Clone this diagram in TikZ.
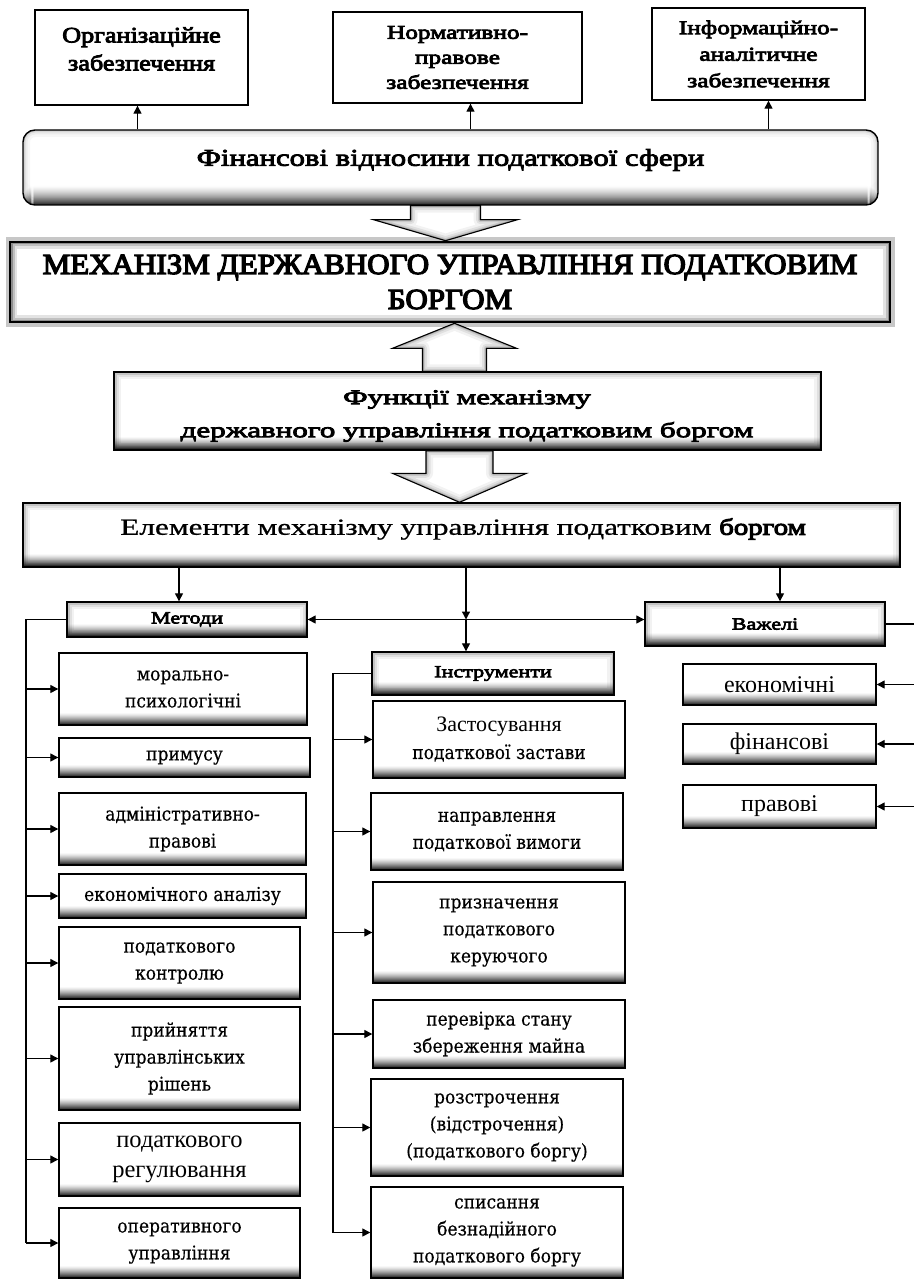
\documentclass[tikz,border=0pt]{standalone}
\usepackage{fontspec}
\setmainfont{Liberation Serif}
% regular serif, plus emboldened / widened variants of it
\newfontfamily\tnr{Liberation Serif}
\newfontfamily\tnrB[FakeStretch=1.07,FakeBold=4.5]{Liberation Serif}
\newfontfamily\serA[FakeStretch=1.19,FakeBold=4]{Liberation Serif}
\newfontfamily\serB[FakeStretch=1.3,FakeBold=4]{Liberation Serif}
\newfontfamily\serC[FakeStretch=1.28,FakeBold=3.5]{Liberation Serif}
\newfontfamily\serD[FakeStretch=1.48,FakeBold=4]{Liberation Serif}
\newfontfamily\serDr[FakeStretch=1.36,FakeBold=0.8]{Liberation Serif}
\newfontfamily\serDb[FakeStretch=1.25,FakeBold=4.5]{Liberation Serif}
\newfontfamily\dvs[FakeStretch=0.9,FakeBold=0.35]{DejaVu Serif}
\usetikzlibrary{arrows.meta,calc}

% darkening band along the lower edge of a box
\newcommand\bottomfade[2]{%
  \foreach \k in {0,...,#1}{%
    \pgfmathsetmacro\c{#2*(1-\k/(#1+1))^1.4}%
    \fill[black!\c] ([yshift=\k*1pt]path picture bounding box.south west) rectangle
      ([yshift=\k*1pt+1.1pt]path picture bounding box.south east);}}
% soft shadow along all inner edges
\newcommand\innerglow[1]{%
  \draw[line width=14pt, black, opacity=0.05*#1] (path picture bounding box.south west) rectangle (path picture bounding box.north east);
  \draw[line width=9pt, black, opacity=0.07*#1] (path picture bounding box.south west) rectangle (path picture bounding box.north east);
  \draw[line width=5pt, black, opacity=0.12*#1] (path picture bounding box.south west) rectangle (path picture bounding box.north east);
  \draw[line width=2.5pt, black, opacity=0.2*#1] (path picture bounding box.south west) rectangle (path picture bounding box.north east);}

\tikzset{
  conn/.style={line width=1.3pt, draw=black},
  arr/.style={conn, -{Triangle[length=8pt,width=8pt]}},
  darr/.style={conn, {Triangle[length=8pt,width=8pt]}-{Triangle[length=8pt,width=8pt]}},
  plainbox/.style={draw=black, line width=1.4pt, fill=white, inner sep=0pt, align=center},
  shadebox/.style={plainbox, path picture={\bottomfade{11}{85}}},
  hdrbox/.style={plainbox, path picture={\bottomfade{12}{85}\innerglow{1}}},
  mechbox/.style={plainbox, line width=2.6pt, preaction={draw=black!22, line width=9pt},
    path picture={\innerglow{2.2}}},
  finbox/.style={plainbox, rounded corners=12pt, path picture={\bottomfade{18}{75}\innerglow{0.6}}},
  lbox/.style={shadebox, font=\dvs\fontsize{19}{27}\selectfont},
  tbox/.style={shadebox, font=\tnr\fontsize{24}{30}\selectfont},
  hdrfont/.style={font=\serB\fontsize{17}{20}\selectfont},
}

% hollow block arrow: start, tip, shaft half width, head half width, head length
\newcommand\blockarrow[5]{%
  \coordinate (hb) at ($(#2)!#5!(#1)$);
  \coordinate (p1) at ($(#1)+(-#3,0)$);
  \coordinate (p2) at ($(hb)+(-#3,0)$);
  \coordinate (p3) at ($(hb)+(-#4,0)$);
  \coordinate (p5) at ($(hb)+(#4,0)$);
  \coordinate (p6) at ($(hb)+(#3,0)$);
  \coordinate (p7) at ($(#1)+(#3,0)$);
  \begin{scope}
    \clip (p1) -- (p2) -- (p3) -- (#2) -- (p5) -- (p6) -- (p7) -- cycle;
    \fill[white] (p1) -- (p2) -- (p3) -- (#2) -- (p5) -- (p6) -- (p7) -- cycle;
    \foreach \w/\o in {14/0.05,9/0.07,5/0.1,2.5/0.15}
      \draw[black, line width=\w pt, opacity=\o, line join=round]
        (p1) -- (p2) -- (p3) -- (#2) -- (p5) -- (p6) -- (p7) -- cycle;
  \end{scope}
  \draw[black, line width=1.1pt] (p1) -- (p2) -- (p3) -- (#2) -- (p5) -- (p6) -- (p7) -- cycle;}

\begin{document}
\begin{tikzpicture}[x=1pt,y=-1pt]
\useasboundingbox (0,0) rectangle (913,1281);
\fill[white] (0,0) rectangle (913,1281);

% --- support blocks at the top
\node[plainbox, minimum width=213pt, minimum height=95pt] (org) at (141.5,57.5) {};
\node[font=\serA\fontsize{22}{28}\selectfont, align=center] (orgT) at (141.5,49) {Організаційне\\забезпечення};
\node[plainbox, minimum width=249pt, minimum height=91pt, font=\serB\fontsize{19.5}{25}\selectfont] (norm) at (457.5,57.5) {Нормативно-\\правове\\забезпечення};
\node[plainbox, minimum width=213pt, minimum height=92pt, font=\serB\fontsize{19.5}{26.5}\selectfont] (info) at (758.5,54) {Інформаційно-\\аналітичне\\забезпечення};

% --- financial relations
\node[finbox, minimum width=855pt, minimum height=75pt] (fin) at (450.5,167.5) {};
\node[font=\serC\fontsize{24}{28}\selectfont] (finT) at (450.5,160) {Фінансові відносини податкової сфери};

\draw[arr] ([xshift=-4pt]org.south |- fin.north) -- ([xshift=-4pt]org.south);
\draw[arr] ([xshift=13pt]norm.south |- fin.north) -- ([xshift=13pt]norm.south);
\draw[arr] ([xshift=10pt]info.south |- fin.north) -- ([xshift=10pt]info.south);

% --- mechanism
\node[mechbox, minimum width=880pt, minimum height=80pt, font=\tnrB\fontsize{29}{35}\selectfont] (mech) at (450,282) {МЕХАНІЗМ ДЕРЖАВНОГО УПРАВЛІННЯ ПОДАТКОВИМ\\БОРГОМ};

% --- functions
\node[hdrbox, minimum width=707pt, minimum height=78pt] (func) at (467.5,411) {};
\node[font=\serD\fontsize{21}{33}\selectfont, align=center] (funcT) at (467,416) {Функції механізму\\державного управління податковим боргом};

% --- elements
\node[hdrbox, minimum width=877pt, minimum height=64pt] (elem) at (461.5,535) {};
\node[font=\serDr\fontsize{23}{28}\selectfont] (elemT) at (463,529) {Елементи механізму управління податковим {\serDb боргом}};

% --- block arrows between the main levels
\coordinate (a1s) at ([xshift=-5pt]fin.south);
\coordinate (a1t) at (a1s |- mech.north);
\blockarrow{a1s}{a1t}{35}{72}{21pt}
\coordinate (a2s) at ([xshift=-13pt]func.north);
\coordinate (a2t) at (a2s |- mech.south);
\blockarrow{a2s}{a2t}{32}{62}{25pt}
\coordinate (a3s) at ([xshift=-8pt]func.south);
\coordinate (a3t) at (a3s |- elem.north);
\blockarrow{a3s}{a3t}{33.5}{67}{29pt}

% --- three groups
\node[hdrbox, hdrfont, minimum width=240pt, minimum height=35pt] (met) at (187,619.5) {Методи};
\node[hdrbox, hdrfont, minimum width=240pt, minimum height=44pt] (vaz) at (765,624) {Важелі};
\node[hdrbox, hdrfont, minimum width=242pt, minimum height=43pt] (instr) at (493,673.5) {Інструменти};

\draw[arr] ([xshift=-8pt]met.north |- elem.south) -- ([xshift=-8pt]met.north);
\draw[arr] ([xshift=15pt]vaz.north |- elem.south) -- ([xshift=15pt]vaz.north);
\coordinate (mid) at ([xshift=-27pt]instr.north |- met.east);
\draw[arr] (mid |- elem.south) -- (mid);
\draw[arr] (mid) -- (mid |- instr.north);
\draw[darr] (met.east) -- (met.east -| vaz.west);

% --- methods
\node[lbox, minimum width=248pt, minimum height=72pt] (m1) at (183,689) {морально-\\психологічні};
\node[lbox, minimum width=251pt, minimum height=39pt] (m2) at (184.5,757.5) {примусу};
\node[lbox, minimum width=247pt, minimum height=72pt] (m3) at (182.5,829) {адміністративно-\\правові};
\node[lbox, minimum width=247pt, minimum height=44pt] (m4) at (182.5,896) {економічного аналізу};
\node[lbox, minimum width=241pt, minimum height=72pt] (m5) at (179.5,963) {податкового\\контролю};
\node[lbox, minimum width=241pt, minimum height=103pt] (m6) at (179.5,1058.5) {прийняття\\управлінських\\рішень};
\node[tbox, font=\tnr\fontsize{24.5}{30}\selectfont, minimum width=241pt, minimum height=73pt] (m7) at (179.5,1159.5) {податкового\\регулювання};
\node[lbox, minimum width=241pt, minimum height=70pt] (m8) at (179.5,1243) {оперативного\\управління};

\coordinate (lbus) at (26,0);
\draw[conn] (met.west) -| (lbus |- m8.west);
\foreach \b in {m1,m2,m3,m4,m5,m6,m7,m8}
  \draw[arr] (lbus |- \b.west) -- (\b.west);

% --- instruments
\node[lbox, minimum width=252pt, minimum height=77pt] (i1) at (499,739.5) {{\tnr\fontsize{22}{27}\selectfont Застосування}\\податкової застави};
\node[lbox, minimum width=252pt, minimum height=77pt] (i2) at (497,831.5) {направлення\\податкової вимоги};
\node[lbox, minimum width=252pt, minimum height=101pt] (i3) at (499,932.5) {призначення\\податкового\\керуючого};
\node[lbox, minimum width=252pt, minimum height=68pt] (i4) at (499,1034) {перевірка стану\\збереження майна};
\node[lbox, minimum width=252pt, minimum height=97pt] (i5) at (497,1127.5) {розстрочення\\(відстрочення)\\(податкового боргу)};
\node[lbox, minimum width=252pt, minimum height=91pt] (i6) at (497,1232.5) {списання\\безнадійного\\податкового боргу};

\coordinate (mbus) at (333,0);
\draw[conn] (instr.west) -| (mbus |- i6.west);
\foreach \b in {i1,i2,i3,i4,i5,i6}
  \draw[arr] (mbus |- \b.west) -- (\b.west);

% --- levers
\node[tbox, minimum width=193pt, minimum height=41pt] (l1) at (779.5,684.5) {економічні};
\node[tbox, minimum width=193pt, minimum height=40pt] (l2) at (779.5,744) {фінансові};
\node[tbox, minimum width=193pt, minimum height=43pt] (l3) at (779.5,806.5) {правові};

\coordinate (rbus) at (916,0);
\draw[conn] (vaz.east) -| (rbus |- l3.east);
\foreach \b in {l1,l2,l3}
  \draw[arr] (rbus |- \b.east) -- (\b.east);
\end{tikzpicture}
\end{document}
